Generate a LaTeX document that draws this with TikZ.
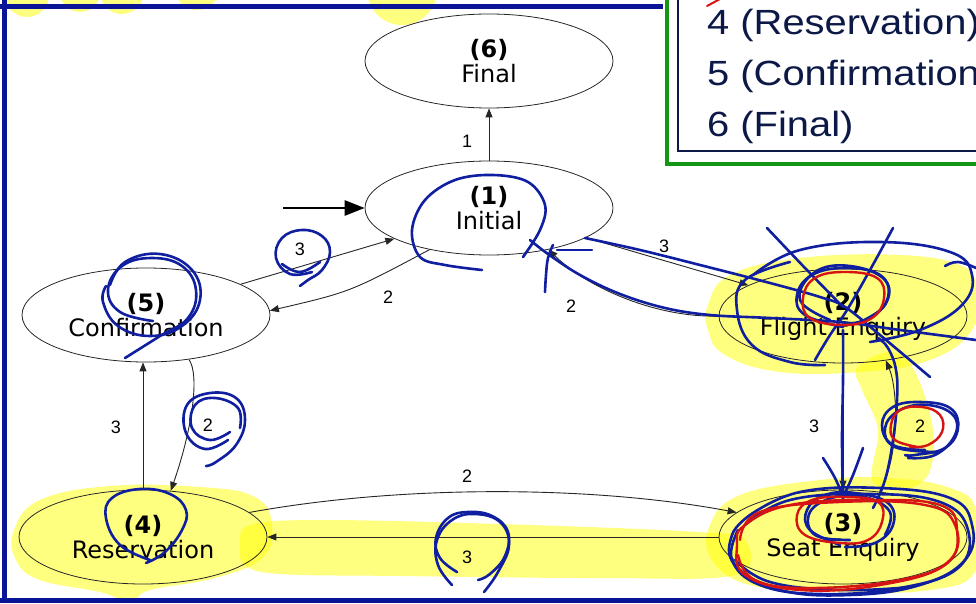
\documentclass[tikz,border=0pt]{standalone}
\usepackage{fontspec}
\usetikzlibrary{shapes.geometric,arrows.meta}
\newfontfamily\dvsans{DejaVu Sans}
\newfontfamily\lsans{Liberation Sans}
\definecolor{penblue}{RGB}{16,30,160}
\definecolor{penred}{RGB}{215,20,20}
\definecolor{framegreen}{RGB}{20,150,20}
\definecolor{framenavy}{RGB}{10,20,150}
\definecolor{legendink}{RGB}{12,25,70}
\definecolor{hlyellow}{RGB}{255,255,0}
\newcommand\statefont{\dvsans\fontsize{24}{28}\selectfont}
\newcommand\lblfont{\lsans\fontsize{18}{20}\selectfont}
\newcommand\legendfont{\lsans\fontsize{35}{40}\selectfont}
\tikzset{
  state/.style={ellipse, draw=black!85, line width=0.8pt, minimum width=248pt,
    minimum height=94pt, inner sep=0pt, align=center, font=\statefont, text=black},
  tr/.style={draw=black!85, line width=0.9pt, -{Triangle[length=9pt,width=7pt]}},
  lbl/.style={font=\lblfont, inner sep=0pt, text=black},
  pen/.style={draw=penblue, line width=2.6pt, line cap=round, line join=round},
  redpen/.style={draw=penred, line width=2.4pt, line cap=round, line join=round},
  hl/.style={fill=hlyellow, fill opacity=0.5, draw=none},
  legend/.style={font=\legendfont, text=legendink, anchor=base west, inner sep=0pt}
}
\newcommand\statetext[2]{\raisebox{-3pt}{\textbf{#1}}\\#2}
\begin{document}
\begin{tikzpicture}[x=1pt,y=-1pt]
\clip (0,0) rectangle (976,604);

% highlighter marks
\foreach \cx/\cy/\r in {27/-5/22, 80/-8/20, 122/-8/22, 197/-12/22, 402/-10/35}
  \fill[hl] (\cx,\cy) circle (\r);
\fill[hl] plot[smooth cycle, tension=0.7] coordinates
  {(14,530) (40,500) (110,486) (200,487) (255,497) (272,525) (262,558) (215,578)
   (150,590) (130,602) (100,592) (40,580) (16,560)};
\fill[hl] plot[smooth cycle, tension=0.6] coordinates
  {(240,545) (250,525) (320,520) (500,524) (700,532) (745,540) (735,575)
   (600,578) (400,576) (280,574) (245,565)};
\fill[hl] plot[smooth cycle, tension=0.7] coordinates
  {(708,305) (730,275) (800,258) (900,255) (962,266) (976,290) (972,330)
   (930,360) (860,372) (780,372) (725,355) (708,330)};
\fill[hl] plot[smooth cycle, tension=0.6] coordinates
  {(857,368) (890,352) (915,372) (933,430) (928,475) (900,490) (872,480)
   (878,430) (862,390)};
\fill[hl] plot[smooth cycle, tension=0.7] coordinates
  {(710,525) (740,495) (820,480) (890,478) (950,488) (976,510) (976,570)
   (930,590) (830,592) (750,585) (712,560)};

% states
\node[state] (n6) at (489,61)  {\statetext{(6)}{Final}};
\node[state] (n1) at (489,208) {\statetext{(1)}{Initial}};
\node[state] (n5) at (146,315) {\statetext{(5)}{Confirmation}};
\node[state] (n2) at (843,316) {\statetext{(2)}{Flight Enquiry}};
\node[state] (n3) at (843,537) {\statetext{(3)}{Seat Enquiry}};
\node[state] (n4) at (143,537) {\statetext{(4)}{Reservation}};

% start marker
\coordinate (start) at (283,208);
\draw[line width=2.8pt, -{Triangle[length=20pt,width=15pt]}] (start) -- (n1.west);

% transitions
\draw[tr] (n1.north) -- (n6.south);
\draw[tr] (n5.18) -- (n1.198);
\draw[tr] (n1.215) .. controls (350,292) .. (n5.2);
\draw[tr] (n1.343) -- (n2.162);
\draw[tr] (n2.west) .. controls (660,318) and (590,290) .. (n1.325);
\draw[tr] (n2.south) -- (n3.north);
\draw[tr] (n3.51) .. controls (900,455) and (898,390) .. (n2.314);
\draw[tr] (n4.13) .. controls (400,485) and (590,485) .. (n3.167);
\draw[tr] (n3.west) -- (n4.east);
\draw[tr] (n4.north) -- (n4.north |- n5.south);
\draw[tr] (n5.314) .. controls (200,375) and (192,430) .. (n4.59);

% transition labels
\node[lbl] (l16) at (467,141) {1};
\node[lbl] (l51) at (300,249) {3};
\node[lbl] (l15) at (388,297) {2};
\node[lbl] (l12) at (664,246) {3};
\node[lbl] (l21) at (571,306) {2};
\node[lbl] (l23) at (814,426) {3};
\node[lbl] (l32) at (920,426) {2};
\node[lbl] (l43) at (467,476) {2};
\node[lbl] (l34) at (467,557) {3};
\node[lbl] (l45) at (116,427) {3};
\node[lbl] (l54) at (208,425) {2};

% frame and legend box
\draw[framenavy, line width=5pt] (-5,6.5) -- (663,6.5);
\draw[framenavy, line width=5pt] (4.5,0) -- (4.5,600);
\draw[framenavy, line width=5pt] (0,600.5) -- (980,600.5);
\fill[white] (669,0) rectangle (980,162);
\draw[framegreen, line width=4pt] (667,-5) -- (667,164) -- (980,164);
\draw[legendink, line width=1.3pt] (678,-5) -- (678,151) -- (980,151);
\node[legend] (k4) at (707,35)  {\scalebox{1.14}[1]{4 (Reservation)}};
\node[legend] (k5) at (707,86)  {\scalebox{1.14}[1]{5 (Confirmation)}};
\node[legend] (k6) at (707,137) {\scalebox{1.14}[1]{6 (Final)}};
\draw[redpen, line width=2pt] (707,6) -- (722,-2);

% pen marks: blue
\draw[pen] plot[smooth, tension=0.7] coordinates
  {(312,272) (290,274) (276,258) (282,238) (302,230) (322,236) (330,252) (322,270) (308,280) (300,286)};
\draw[pen] plot[smooth, tension=0.7] coordinates
  {(320,262) (300,272) (282,264)};
\draw[pen] plot[smooth, tension=0.7] coordinates
  {(153,321) (120,312) (108,290) (122,266) (152,258) (182,266) (196,290) (188,318) (160,336) (125,358)};
\draw[pen] plot[smooth, tension=0.7] coordinates
  {(110,285) (125,262) (160,254) (192,270) (200,300) (182,326) (150,336) (118,326) (103,302) (106,286)};
\draw[pen] plot[smooth, tension=0.7] coordinates
  {(228,440) (205,449) (186,433) (187,405) (210,393) (236,398) (245,420) (236,445) (216,462) (206,466)};
\draw[pen] plot[smooth, tension=0.7] coordinates
  {(230,432) (210,440) (192,428) (195,405) (215,398) (238,408) (240,428)};
\draw[pen] plot[smooth, tension=0.7] coordinates
  {(150,560) (120,545) (106,518) (112,498) (140,489) (170,494) (186,510) (182,530) (165,552) (146,563)};
\draw[pen] plot[smooth, tension=0.7] coordinates
  {(457,572) (440,558) (436,538) (448,518) (468,512) (492,516) (508,532) (505,556) (490,574) (478,580)};
\draw[pen] plot[smooth, tension=0.7] coordinates
  {(452,585) (438,565) (437,540) (452,520) (475,514) (500,522) (509,545) (498,572) (484,592)};
\draw[pen] plot[smooth, tension=0.6] coordinates
  {(482,270) (445,265) (420,257) (412,230) (425,200) (455,180) (493,175) (528,182) (545,205) (540,230) (523,257)};
\draw[pen] plot[smooth, tension=0.6] coordinates
  {(585,238) (640,250) (700,265) (770,283) (820,297) (845,307) (880,335) (930,377)};
\draw[pen] plot[smooth, tension=0.6] coordinates
  {(530,240) (548,254) (580,275) (620,294) (665,308) (710,315) (770,318) (840,322) (900,330) (976,340)};
\draw[pen] (557,250) -- (592,250);
\draw[pen] plot[smooth, tension=0.7] coordinates {(553,245) (548,258) (546,275) (545,292)};
\draw[pen] plot[smooth, tension=0.7] coordinates
  {(753,275) (800,250) (880,242) (950,252) (972,275) (962,305) (920,330) (870,342)};
\draw[pen] plot[smooth, tension=0.7] coordinates
  {(790,262) (745,280) (737,310) (752,345) (790,362) (825,365)};
\draw[pen] plot[smooth, tension=0.7] coordinates {(767,228) (805,268) (843,307)};
\draw[pen] plot[smooth, tension=0.7] coordinates {(893,228) (870,270) (847,310) (830,335) (815,360)};
\draw[pen] plot[smooth, tension=0.7] coordinates
  {(843,327) (805,315) (797,295) (812,275) (845,268) (880,275) (888,297) (870,318) (840,325)};
\draw[pen] plot[smooth, tension=0.7] coordinates
  {(830,320) (800,300) (815,272) (850,266) (885,280) (885,305) (860,322)};
\draw[pen] plot[smooth, tension=0.7] coordinates {(945,266) (958,262) (976,268)};
\draw[pen] plot[smooth, tension=0.7] coordinates {(843,330) (843,380) (842,440) (843,500)};
\draw[pen] plot[smooth, tension=0.7] coordinates {(823,458) (835,478) (843,497)};
\draw[pen] plot[smooth, tension=0.7] coordinates {(863,448) (853,475) (843,497)};
\draw[pen] plot[smooth, tension=0.7] coordinates
  {(873,508) (885,480) (893,440) (897,400) (896,370) (888,348) (878,338)};
\draw[pen] plot[smooth, tension=0.7] coordinates
  {(925,450) (893,445) (882,425) (893,407) (920,402) (950,408) (958,428) (945,448) (915,455) (905,455)};
\draw[pen] plot[smooth, tension=0.7] coordinates
  {(935,452) (895,447) (885,428) (900,410) (928,405) (953,415) (955,435) (935,455) (908,458)};
\draw[pen] plot[smooth, tension=0.7] coordinates
  {(750,515) (800,492) (880,488) (950,498) (972,525) (965,560) (920,585) (850,595) (780,590) (735,565) (732,535) (750,515)};
\draw[pen] plot[smooth, tension=0.7] coordinates
  {(745,525) (790,500) (870,494) (940,502) (968,530) (958,568) (900,588) (820,594) (760,585) (732,560) (738,530)};
\draw[pen] plot[smooth, tension=0.7] coordinates {(735,560) (770,582) (840,590) (912,587)};
\draw[pen] plot[smooth, tension=0.7] coordinates
  {(840,545) (810,530) (807,510) (825,495) (855,493) (888,503) (893,525) (875,543) (845,547)};
\draw[pen] plot[smooth, tension=0.7] coordinates
  {(850,540) (815,535) (810,512) (835,497) (865,497) (890,512) (885,535)};

% pen marks: red
\draw[redpen] plot[smooth cycle, tension=0.7] coordinates
  {(843,325) (810,318) (803,298) (815,278) (845,272) (877,278) (884,298) (872,318)};
\draw[redpen] plot[smooth, tension=0.7] coordinates
  {(918,447) (895,440) (891,425) (900,410) (922,407) (940,415) (942,432) (928,445) (910,447)};
\draw[redpen] plot[smooth cycle, tension=0.7] coordinates
  {(745,525) (790,505) (870,500) (940,505) (957,530) (945,565) (880,585) (800,590) (745,575) (737,545)};
\draw[redpen] plot[smooth, tension=0.7] coordinates
  {(740,540) (760,512) (840,502) (925,505) (955,525) (950,560) (900,580) (810,588) (755,580) (738,555)};
\draw[redpen] plot[smooth cycle, tension=0.7] coordinates
  {(840,543) (805,535) (797,515) (812,500) (845,497) (878,502) (882,522) (868,540)};
\end{tikzpicture}
\end{document}
